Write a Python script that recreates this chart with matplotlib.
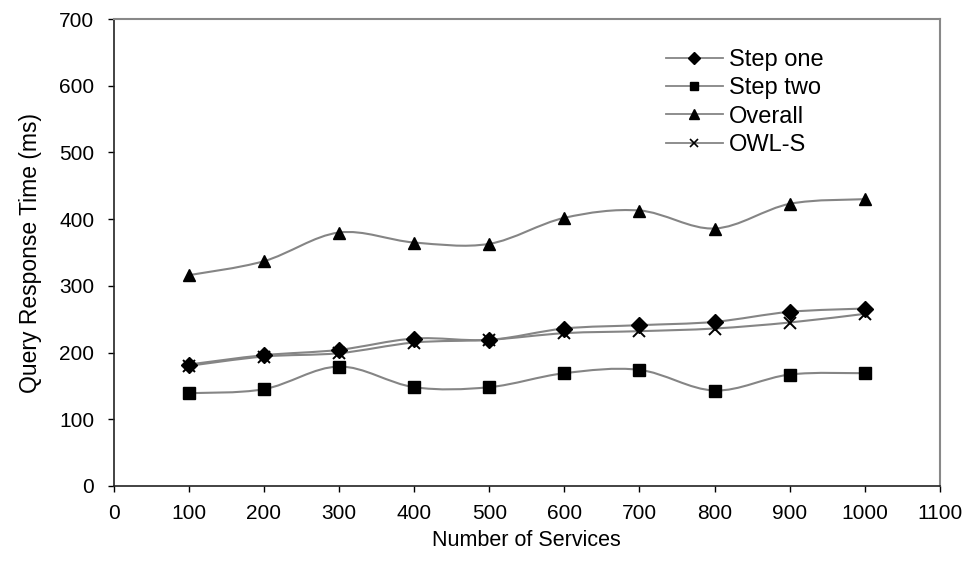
import numpy as np
import matplotlib
matplotlib.use('Agg')
import matplotlib.pyplot as plt
from matplotlib.path import Path
from matplotlib.patches import PathPatch
from matplotlib.lines import Line2D

plt.rcParams['font.family'] = ['Liberation Sans', 'DejaVu Sans']

services = [100, 200, 300, 400, 500, 600, 700, 800, 900, 1000]
step_one = [182, 196, 204, 221, 219, 236, 241, 246, 261, 266]
step_two = [139, 145, 179, 148, 148, 169, 174, 143, 167, 169]
overall = [316, 337, 380, 365, 363, 402, 413, 386, 423, 430]
owl_s = [180, 194, 199, 215, 219, 229, 232, 236, 245, 258]

series = [
    ('Step one', step_one, 'D', 8.0),
    ('Step two', step_two, 's', 8.0),
    ('Overall', overall, '^', 9.0),
    ('OWL-S', owl_s, 'x', 8.5),
]

line_color = '#858585'


def smooth_path(x, y):
    # Excel-like smoothed line: cubic bezier through every point
    pts = np.column_stack([x, y]).astype(float)
    n = len(pts)
    verts = [pts[0]]
    codes = [Path.MOVETO]
    for i in range(n - 1):
        p0 = pts[max(i - 1, 0)]
        p1 = pts[i]
        p2 = pts[i + 1]
        p3 = pts[min(i + 2, n - 1)]
        c1 = p1 + (p2 - p0) / 6.0
        c2 = p2 - (p3 - p1) / 6.0
        verts += [c1, c2, p2]
        codes += [Path.CURVE4] * 3
    return Path(verts, codes)


fig = plt.figure(figsize=(9.72, 5.63), dpi=100)
ax = fig.add_axes([0.117, 0.137, 0.850, 0.829])

handles = []
for name, vals, mk, ms in series:
    patch = PathPatch(smooth_path(services, vals), facecolor='none',
                      edgecolor=line_color, lw=1.5, zorder=2)
    ax.add_patch(patch)
    if mk == 'x':
        ax.plot(services, vals, linestyle='none', marker=mk, ms=ms,
                mec='black', mew=1.4, zorder=3)
    else:
        ax.plot(services, vals, linestyle='none', marker=mk, ms=ms,
                mfc='black', mec='black', zorder=3)
    handles.append(Line2D([], [], color=line_color, lw=1.3, marker=mk,
                          ms=ms * 0.75, mfc='black', mec='black',
                          mew=1.2 if mk == 'x' else 1.0, label=name))

ax.set_xlim(0, 1100)
ax.set_ylim(0, 700)
ax.set_xticks(np.arange(0, 1101, 100))
ax.set_yticks(np.arange(0, 701, 100))
ax.tick_params(direction='out', length=4, width=1, labelsize=15, pad=10)
ax.tick_params(axis='x', pad=9)

for side in ['top', 'right']:
    ax.spines[side].set_color('#888888')
    ax.spines[side].set_linewidth(1.5)
for side in ['left', 'bottom']:
    ax.spines[side].set_color('#222222')
    ax.spines[side].set_linewidth(1.2)

ax.set_xlabel('Number of Services', fontsize=15.5, labelpad=5)
ax.set_ylabel('Query Response Time (ms)', fontsize=16.5, labelpad=12)

fig.legend(handles=handles, loc='upper left', bbox_to_anchor=(0.673, 0.934),
           frameon=False, fontsize=17, handlelength=2.4, handletextpad=0.25,
           labelspacing=0.27, borderpad=0)

fig.savefig('out.png', dpi=100)
